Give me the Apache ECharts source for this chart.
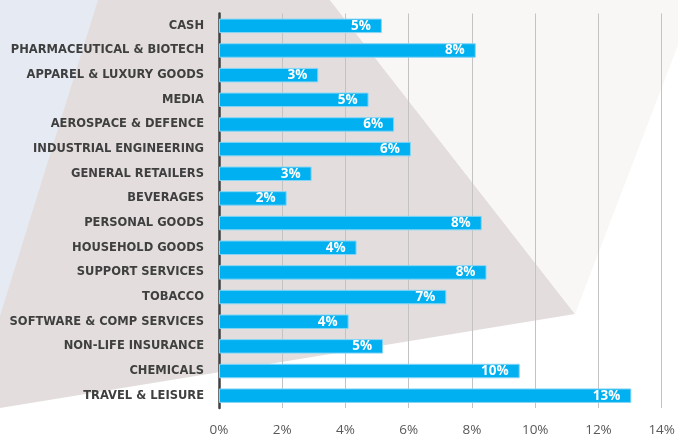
<!DOCTYPE html>
<html>
<head>
<meta charset="utf-8">
<script src="https://cdn.jsdelivr.net/npm/echarts@6/dist/echarts.min.js"></script>
<style>
html,body{margin:0;padding:0;background:#ffffff;}
#chart{width:678px;height:437px;}
</style>
</head>
<body>
<div id="chart"></div>
<script>
const categories = [
  'CASH','PHARMACEUTICAL & BIOTECH','APPAREL & LUXURY GOODS','MEDIA',
  'AEROSPACE & DEFENCE','INDUSTRIAL ENGINEERING','GENERAL RETAILERS','BEVERAGES',
  'PERSONAL GOODS','HOUSEHOLD GOODS','SUPPORT SERVICES','TOBACCO',
  'SOFTWARE & COMP SERVICES','NON-LIFE INSURANCE','CHEMICALS','TRAVEL & LEISURE'
];
const weights = [5.15, 8.12, 3.14, 4.73, 5.54, 6.07, 2.93, 2.14, 8.31, 4.35, 8.46, 7.19, 4.10, 5.19, 9.51, 13.04];
const xTicks = [0, 2, 4, 6, 8, 10, 12, 14];

const chart = echarts.init(document.getElementById('chart'), null, {renderer: 'canvas'});
chart.setOption({
  animation: false,
  backgroundColor: '#ffffff',
  graphic: {
    elements: [
      {type: 'polygon', z: -10, silent: true, shape: {points: [[0,0],[100,0],[0,318]]}, style: {fill: '#e5eaf3'}},
      {type: 'polygon', z: -10, silent: true, shape: {points: [[98,0],[330,0],[575,314],[0,408],[0,316]]}, style: {fill: '#e3dedd'}},
      {type: 'polygon', z: -10, silent: true, shape: {points: [[330,0],[678,0],[678,45],[575,314]]}, style: {fill: '#f8f7f5'}}
    ]
  },
  grid: {left: 219, right: 16, top: 13.5, bottom: 19, containLabel: false},
  xAxis: {
    type: 'value', min: 0, max: 14, interval: 2,
    axisLine: {show: false}, axisTick: {show: false},
    splitLine: {show: true, lineStyle: {color: '#c3c3c3', width: 1}},
    axisLabel: {
      margin: 15, color: '#595959', fontSize: 13.5, fontFamily: 'Open Sans',
      formatter: v => xTicks.includes(v) ? v + '%' : ''
    }
  },
  yAxis: {
    type: 'category', data: categories, inverse: true,
    axisLine: {show: true, lineStyle: {color: '#404040', width: 2.5}},
    axisTick: {show: false},
    axisLabel: {margin: 15, color: '#3f3f3f', fontSize: 11.5, fontWeight: 'bold', fontFamily: 'DejaVu Sans'}
  },
  series: [{
    type: 'bar', data: weights, barWidth: 14.5,
    itemStyle: {color: '#00b0f0', borderColor: '#86d6f6', borderWidth: 1},
    label: {
      show: true, position: 'insideRight', distance: 11,
      color: '#ffffff', fontSize: 13.5, fontWeight: 'bold', fontFamily: 'Open Sans',
      formatter: p => Math.round(p.value) + '%'
    }
  }]
});
</script>
</body>
</html>
